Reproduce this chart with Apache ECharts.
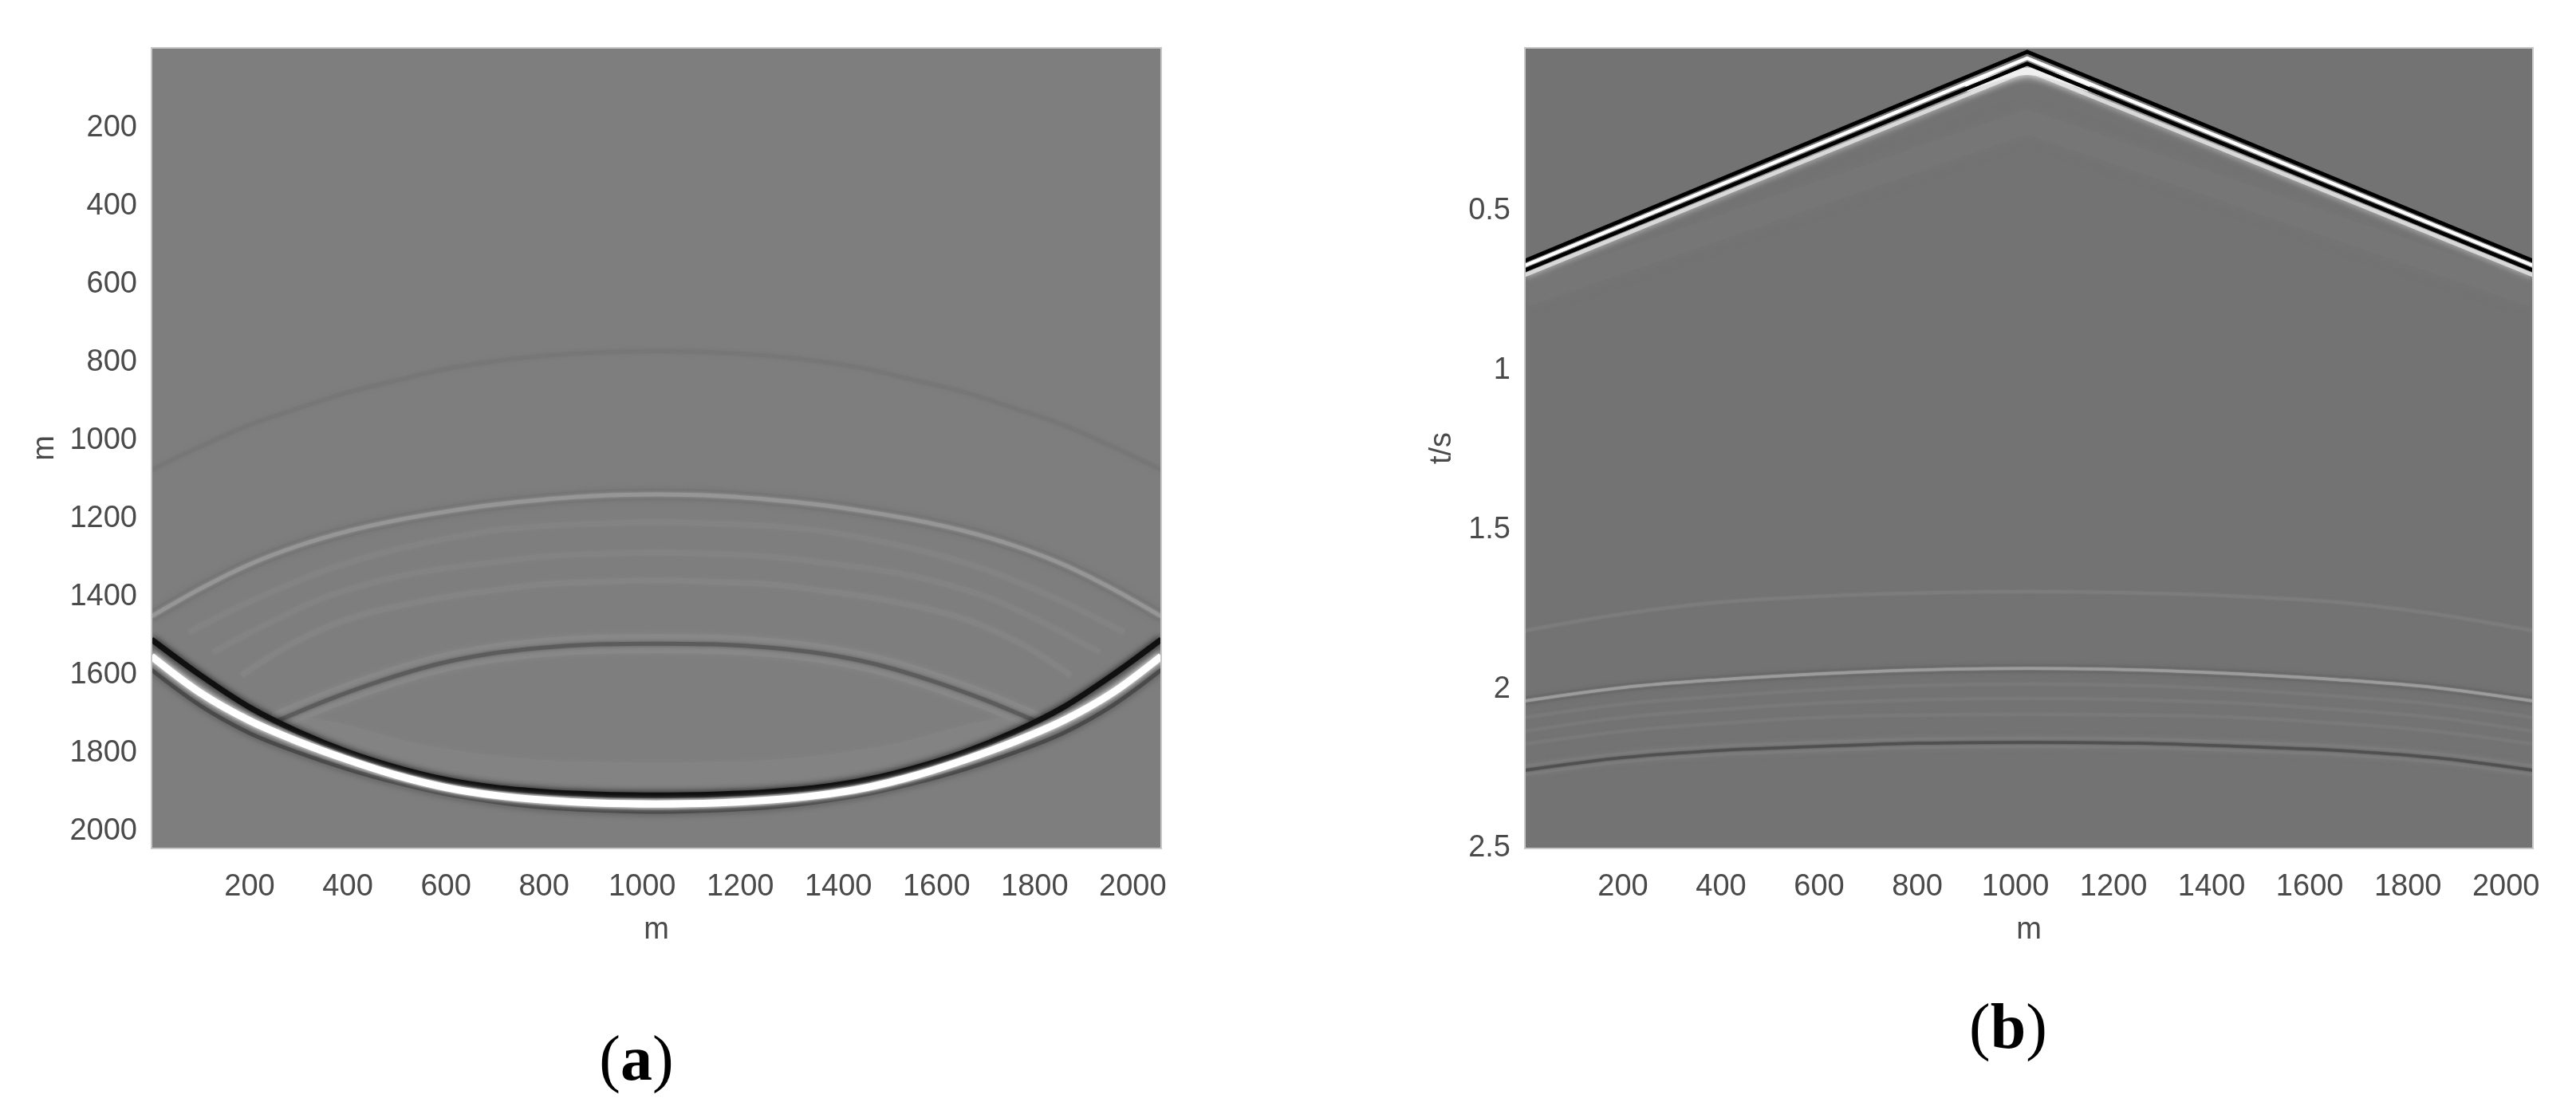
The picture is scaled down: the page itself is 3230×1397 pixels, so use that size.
<!DOCTYPE html>
<html lang="en">
<head>
    <meta charset="UTF-8">
    <title>Wavefield snapshot and shot record</title>
    <style>
        html, body { margin: 0; padding: 0; background: #fff; }
        #main { width: 3230px; height: 1397px; }
    </style>
    <script src="https://cdn.jsdelivr.net/npm/echarts@6/dist/echarts.min.js"></script>
</head>
<body>
<div id="main"></div>
<script>
    // tick labels
    var distTicks = [200, 400, 600, 800, 1000, 1200, 1400, 1600, 1800, 2000];
    var timeTicks = [0.5, 1, 1.5, 2, 2.5];

    // (a) wavefield snapshot, depth in m read along these offsets
    var aX = [0, 100, 200, 300, 400, 500, 600, 700, 800, 900, 1029, 1158, 1258, 1358, 1458, 1558, 1658, 1758, 1858, 1958, 2058];
    var aMainWhite = [1551, 1645, 1716, 1770, 1816, 1856, 1887, 1907, 1919, 1926, 1929, 1926, 1919, 1907, 1887, 1856, 1816, 1770, 1716, 1645, 1551];
    var aMainDarkUp = [1508, 1600, 1682, 1745, 1796, 1836, 1867, 1887, 1898, 1904, 1907, 1904, 1898, 1887, 1867, 1836, 1796, 1745, 1682, 1600, 1508];
    var aMainDarkLow = [1586, 1678, 1748, 1798, 1840, 1875, 1904, 1924, 1938, 1945, 1949, 1945, 1938, 1924, 1904, 1875, 1840, 1798, 1748, 1678, 1586];
    var aArcLight = [1449, 1378, 1316, 1268, 1231, 1203, 1181, 1163, 1150, 1141, 1137, 1141, 1150, 1163, 1181, 1203, 1231, 1268, 1316, 1378, 1449];
    var aArcTop = [1074, 1014, 959, 916, 876, 845, 816, 796, 782, 774, 770, 774, 782, 796, 816, 845, 876, 916, 959, 1014, 1074];

    var aFaint1X = [76, 200, 363, 525, 699, 797, 900, 1029, 1158, 1261, 1359, 1533, 1695, 1858, 1982];
    var aFaint1 = [1490, 1412, 1327, 1270, 1229, 1218, 1212, 1208, 1212, 1218, 1229, 1270, 1327, 1412, 1490];
    var aFaint2X = [125, 244, 363, 525, 699, 797, 900, 1029, 1158, 1261, 1359, 1533, 1695, 1814, 1933];
    var aFaint2 = [1541, 1463, 1396, 1341, 1310, 1296, 1290, 1286, 1290, 1296, 1310, 1341, 1396, 1463, 1541];
    var aFaint3X = [184, 293, 418, 569, 699, 797, 900, 1029, 1158, 1261, 1359, 1489, 1640, 1765, 1874];
    var aFaint3 = [1600, 1514, 1449, 1406, 1382, 1367, 1361, 1357, 1361, 1367, 1382, 1406, 1449, 1514, 1600];

    var aInnerX = [252, 363, 472, 580, 688, 797, 900, 1029, 1158, 1261, 1370, 1478, 1586, 1695, 1806];
    var aInner = [1719, 1661, 1612, 1572, 1545, 1529, 1521, 1519, 1521, 1529, 1545, 1572, 1612, 1661, 1719];
    var aLensX = [276, 390, 525, 666, 797, 900, 1029, 1158, 1261, 1392, 1533, 1668, 1782];
    var aLens = [1733, 1760, 1805, 1835, 1851, 1855, 1857, 1855, 1851, 1835, 1805, 1760, 1733];

    // (b) shot record, arrival time in s read along these offsets
    var bVX = [0, 1024, 2055];
    var bVBlack1 = [0.656, 0.0005, 0.656];
    var bVWhite = [0.671, 0.0205, 0.671];
    var bVBlack2 = [0.686, 0.038, 0.686];
    var bVSoft = [0.701, 0.058, 0.701];
    var bVInner = [0.763, 0.22, 0.763];
    var bApexX = [900, 1024, 1150];
    var bApexSoft = [0.115, 0.062, 0.115];

    var bX = [0, 200, 400, 600, 800, 1027, 1254, 1454, 1654, 1854, 2055];
    var bArcTop = [1.817, 1.764, 1.727, 1.709, 1.699, 1.694, 1.699, 1.709, 1.727, 1.764, 1.817];
    var bArcBright = [2.037, 1.995, 1.970, 1.952, 1.940, 1.935, 1.940, 1.952, 1.970, 1.995, 2.037];
    var bFaint1 = [2.089, 2.047, 2.022, 2.002, 1.989, 1.984, 1.989, 2.002, 2.022, 2.047, 2.089];
    var bFaint2 = [2.132, 2.089, 2.064, 2.044, 2.034, 2.029, 2.034, 2.044, 2.064, 2.089, 2.132];
    var bFaint3 = [2.172, 2.132, 2.107, 2.089, 2.082, 2.079, 2.082, 2.089, 2.107, 2.132, 2.172];
    var bArcDark = [2.255, 2.215, 2.192, 2.180, 2.170, 2.167, 2.170, 2.180, 2.192, 2.215, 2.255];

    var labelFont = 'Liberation Sans';
    var labelColor = '#4a4a4a';

    // one stroke of an event, blur gives the soft edge of the image
    function stroke(panel, xs, ys, color, width, blur, straight) {
        return {
            type: 'line',
            xAxisIndex: panel,
            yAxisIndex: panel,
            data: xs.map(function (x, i) { return [x, ys[i]]; }),
            smooth: straight ? false : 0.34,
            symbol: 'none',
            silent: true,
            lineStyle: {
                color: color,
                width: width,
                cap: 'butt',
                join: straight ? 'miter' : 'round',
                shadowColor: color,
                shadowBlur: blur
            }
        };
    }

    function plainNumber(v) {
        return String(v);
    }

    function xAxis(grid, max) {
        return {
            type: 'value', gridIndex: grid, min: 0, max: max,
            name: 'm', nameLocation: 'middle', nameGap: 84,
            nameTextStyle: { fontFamily: labelFont, fontSize: 38, color: labelColor },
            axisLine: { show: false }, axisTick: { show: false }, splitLine: { show: false },
            axisLabel: {
                customValues: distTicks, margin: 30, formatter: plainNumber,
                fontFamily: labelFont, fontSize: 38, color: labelColor
            }
        };
    }

    function yAxis(grid, min, max, ticks, name, gap, labelDrop) {
        return {
            type: 'value', gridIndex: grid, min: min, max: max, inverse: true,
            name: name, nameLocation: 'middle', nameGap: gap,
            nameTextStyle: { fontFamily: labelFont, fontSize: 38, color: labelColor },
            axisLine: { show: false }, axisTick: { show: false }, splitLine: { show: false },
            axisLabel: {
                customValues: ticks, margin: 18, formatter: plainNumber,
                padding: [labelDrop, 0, 0, 0],
                fontFamily: labelFont, fontSize: 38, color: labelColor
            }
        };
    }

    function caption(letter, x, y) {
        return {
            text: '{p|(}{l|' + letter + '}{p|)}',
            left: x, top: y, textAlign: 'center',
            textStyle: {
                rich: {
                    p: { fontFamily: 'Liberation Serif', fontSize: 80, fontWeight: 'normal', color: '#000' },
                    l: { fontFamily: 'Liberation Serif', fontSize: 80, fontWeight: 'bold', color: '#000' }
                }
            }
        };
    }

    // wide strokes spill over the grid clip, so mask the margin and redraw the box on top
    function plotFrame(x, y, w, h) {
        return [
            { type: 'rect', z: 100, silent: true, shape: { x: x - 9, y: y - 9, width: w + 18, height: h + 18 }, style: { fill: 'none', stroke: '#ffffff', lineWidth: 16 } },
            { type: 'rect', z: 101, silent: true, shape: { x: x, y: y, width: w, height: h }, style: { fill: 'none', stroke: '#c8c8c8', lineWidth: 2 } }
        ];
    }

    var series = [
        // panel a, back to front
        stroke(0, aX, aArcTop, '#777777', 5, 5),
        stroke(0, aFaint1X, aFaint1, '#838383', 7, 6),
        stroke(0, aFaint2X, aFaint2, '#838383', 7, 6),
        stroke(0, aFaint3X, aFaint3, '#848484', 7, 6),
        stroke(0, aX, aArcLight, '#747474', 14, 7),
        stroke(0, aX, aArcLight, '#969696', 5, 4),
        stroke(0, aLensX, aLens, '#838383', 34, 10),
        stroke(0, aInnerX, aInner, '#888888', 24, 8),
        stroke(0, aInnerX, aInner, '#5c5c5c', 5, 5),
        stroke(0, aX, aMainDarkLow, '#4a4a4a', 5, 9),
        stroke(0, aX, aMainDarkUp, '#101010', 7, 8),
        stroke(0, aX, aMainWhite, '#ffffff', 9, 6),

        // panel b
        stroke(1, bVX, bVInner, '#767676', 30, 14, true),
        stroke(1, bVX, bVSoft, '#d8d8d8', 5, 8, true),
        stroke(1, bApexX, bApexSoft, '#f0f0f0', 9, 12),
        stroke(1, bVX, bVBlack2, '#000000', 4.5, 1, true),
        stroke(1, bVX, bVBlack1, '#000000', 4.5, 1, true),
        stroke(1, bVX, bVWhite, '#ffffff', 4, 1, true),
        stroke(1, bX, bArcTop, '#7c7c7c', 4, 3),
        stroke(1, bX, bFaint1, '#797979', 4, 3),
        stroke(1, bX, bFaint2, '#797979', 4, 3),
        stroke(1, bX, bFaint3, '#797979', 4, 3),
        stroke(1, bX, bArcBright, '#696969', 10, 5),
        stroke(1, bX, bArcBright, '#9c9c9c', 3.5, 2),
        stroke(1, bX, bArcDark, '#7c7c7c', 14, 6),
        stroke(1, bX, bArcDark, '#505050', 3.5, 3)
    ];

    var chart = echarts.init(document.getElementById('main'), null, { renderer: 'canvas' });
    chart.setOption({
        animation: false,
        backgroundColor: '#ffffff',
        title: [caption('a', 793, 1288), caption('b', 2513, 1248)],
        grid: [
            { left: 190, top: 60, width: 1266, height: 1004, show: true, backgroundColor: '#7e7e7e', borderWidth: 0 },
            { left: 1912, top: 60, width: 1264, height: 1004, show: true, backgroundColor: '#737373', borderWidth: 0 }
        ],
        xAxis: [xAxis(0, 2058), xAxis(1, 2055)],
        yAxis: [
            yAxis(0, -6, 2043, distTicks, 'm', 114, 2),
            yAxis(1, -0.012, 2.5, timeTicks, 't/s', 84, 8)
        ],
        graphic: plotFrame(190, 60, 1266, 1004).concat(plotFrame(1912, 60, 1264, 1004)),
        series: series
    });
</script>
</body>
</html>
